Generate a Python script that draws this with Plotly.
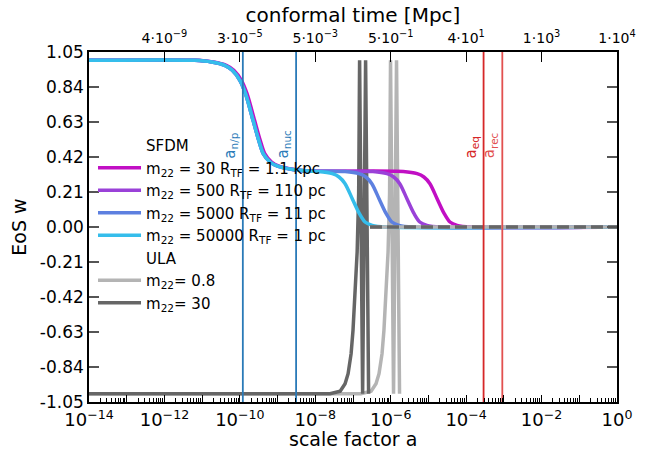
import numpy as np
import plotly.graph_objects as go

# ---------------- data ----------------
# SFDM equation of state w(a); positions given as log10(a)
SFDM_M30_LOGA = [-14.0, -11.16, -10.71, -10.36, -10.16, -9.96, -9.81, -9.61, -9.46, -9.34, -9.16, -8.96, -8.56, -8.16,
                 -5.67, -5.30, -5.12, -4.96, -4.77, -4.58, -4.43, -4.24, -3.87, 0.0]
SFDM_M500_LOGA = [-14.0, -11.2, -10.75, -10.4, -10.2, -10.0, -9.85, -9.65, -9.5, -9.38, -9.2, -9.0, -8.6, -8.2,
                  -6.47, -6.10, -5.92, -5.76, -5.57, -5.38, -5.23, -5.04, -4.67, 0.0]
SFDM_M5000_LOGA = [-14.0, -11.2, -10.75, -10.4, -10.2, -10.0, -9.85, -9.65, -9.5, -9.38, -9.2, -9.0, -8.6, -8.2,
                   -7.21, -6.84, -6.66, -6.50, -6.31, -6.12, -5.97, -5.78, -5.41, 0.0]
SFDM_M50000_LOGA = [-14.0, -11.2, -10.75, -10.4, -10.2, -10.0, -9.85, -9.65, -9.5, -9.38, -9.2, -9.0, -8.6, -8.2,
                    -7.92, -7.55, -7.37, -7.21, -7.02, -6.83, -6.68, -6.49, -6.12, 0.0]
SFDM_W = [1.0, 1.0, 0.99, 0.97, 0.94, 0.88, 0.80, 0.64, 0.52, 0.44, 0.39, 0.365, 0.345, 0.336,
          0.333, 0.32, 0.30, 0.26, 0.17, 0.08, 0.03, 0.01, 0.0, 0.0]

SFDM_NAMES = ["m<sub>22</sub> = 30 R<sub>TF</sub> = 1.1 kpc",
              "m<sub>22</sub> = 500 R<sub>TF</sub> = 110 pc",
              "m<sub>22</sub> = 5000 R<sub>TF</sub> = 11 pc",
              "m<sub>22</sub> = 50000 R<sub>TF</sub> = 1 pc"]
SFDM_COLORS = ["#c10fc4", "#9a41d8", "#5d80e0", "#35bdeb"]

# ULA equation of state (oscillating part)
ULA_M08_LOGA = [-14.0, -6.79, -6.52, -6.39, -6.31, -6.23, -6.18, -6.124, -6.07, -6.03, -6.005, -5.925, -5.846, -5.766]
ULA_M08_W = [-1.0, -1.0, -0.985, -0.94, -0.88, -0.76, -0.62, -0.42, -0.15, 0.2, 1.0, -1.0, 1.0, -1.0]
ULA_M30_LOGA = [-14.0, -7.61, -7.34, -7.21, -7.13, -7.05, -7.0, -6.944, -6.89, -6.85, -6.825, -6.745, -6.666, -6.586]
ULA_M30_W = [-1.0, -1.0, -0.985, -0.94, -0.88, -0.76, -0.62, -0.42, -0.15, 0.2, 1.0, -1.0, 1.0, -1.0]
ULA_TAIL_LOGA = [-6.55, 0.0]
ULA_TAIL_W = [0.0, 0.0]
ULA_NAMES = ["m<sub>22</sub>= 0.8", "m<sub>22</sub>= 30"]
ULA_COLORS = ["#b4b4b4", "#666666"]

# characteristic scale factors
VLINE_A = [1.2e-10, 3.1e-9, 2.9e-4, 9.1e-4]
VLINE_LABELS = ["a<sub>n/p</sub>", "a<sub>nuc</sub>", "a<sub>eq</sub>", "a<sub>rec</sub>"]
VLINE_COLORS = ["#2a7ab8", "#2a7ab8", "#d62728", "#e2504f"]

# axes ticks
Y_TICKS = [1.05, 0.84, 0.63, 0.42, 0.21, 0.0, -0.21, -0.42, -0.63, -0.84, -1.05]
Y_TICKTEXT = ["1.05", "0.84", "0.63", "0.42", "0.21", "0.00", "-0.21", "-0.42", "-0.63", "-0.84", "-1.05"]
X_DECADES = list(range(-14, 1))
MINOR_MANTISSAS = [2, 3, 4, 5, 6, 7, 8, 9]
TOP_TICK_A = [1e-12, 1e-10, 1e-8, 1e-6, 1e-4, 1e-2, 1e0]
TOP_TICKTEXT = ["4·10<sup>−9</sup>", "3·10<sup>−5</sup>", "5·10<sup>−3</sup>", "5·10<sup>−1</sup>",
                "4·10<sup>1</sup>", "1·10<sup>3</sup>", "1·10<sup>4</sup>"]

FONT = "DejaVu Sans"

def to_a(loga):
    return np.power(10.0, np.array(loga, dtype=float))

fig = go.Figure()

# dummy traces to activate the top axis and the minor-tick axis
fig.add_trace(go.Scatter(x=[1e-14, 1.0], y=[0, 0], xaxis="x2", mode="lines",
                         line=dict(color="rgba(0,0,0,0)"), showlegend=False, hoverinfo="skip"))
fig.add_trace(go.Scatter(x=[1e-14, 1.0], y=[0, 0], xaxis="x3", mode="lines",
                         line=dict(color="rgba(0,0,0,0)"), showlegend=False, hoverinfo="skip"))

# legend headers
fig.add_trace(go.Scatter(x=[1e-20], y=[5], mode="lines", line=dict(color="rgba(0,0,0,0)", width=3.5),
                         name="SFDM", legendrank=1))
fig.add_trace(go.Scatter(x=[1e-20], y=[5], mode="lines", line=dict(color="rgba(0,0,0,0)", width=3.5),
                         name="ULA", legendrank=6))

# ULA oscillating parts
fig.add_trace(go.Scatter(x=to_a(ULA_M08_LOGA), y=ULA_M08_W, mode="lines",
                         line=dict(color=ULA_COLORS[0], width=3.5), name=ULA_NAMES[0], legendrank=7))
fig.add_trace(go.Scatter(x=to_a(ULA_M30_LOGA), y=ULA_M30_W, mode="lines",
                         line=dict(color=ULA_COLORS[1], width=3.5), name=ULA_NAMES[1], legendrank=8))

# SFDM curves
sfdm_loga = [SFDM_M30_LOGA, SFDM_M500_LOGA, SFDM_M5000_LOGA, SFDM_M50000_LOGA]
for i in range(4):
    fig.add_trace(go.Scatter(x=to_a(sfdm_loga[i]), y=SFDM_W, mode="lines",
                             line=dict(color=SFDM_COLORS[i], width=3.5, shape="spline", smoothing=0.8),
                             name=SFDM_NAMES[i], legendrank=2 + i))

# ULA averaged tails
fig.add_trace(go.Scatter(x=to_a(ULA_TAIL_LOGA), y=ULA_TAIL_W, mode="lines",
                         line=dict(color=ULA_COLORS[0], width=3.5), showlegend=False, hoverinfo="skip"))
fig.add_trace(go.Scatter(x=to_a(ULA_TAIL_LOGA), y=ULA_TAIL_W, mode="lines",
                         line=dict(color=ULA_COLORS[1], width=3.5, dash="12px,5px"),
                         showlegend=False, hoverinfo="skip"))

# vertical lines
for a, c in zip(VLINE_A, VLINE_COLORS):
    fig.add_trace(go.Scatter(x=[a, a], y=[-1.05, 1.05], mode="lines", line=dict(color=c, width=1.8),
                             showlegend=False, hoverinfo="skip"))

annotations = []
for a, lab, c in zip(VLINE_A, VLINE_LABELS, VLINE_COLORS):
    annotations.append(dict(x=float(np.log10(a)), y=0.4, xref="x", yref="y", text=lab, textangle=-90,
                            showarrow=False, xanchor="right", yanchor="bottom", xshift=-1,
                            font=dict(family=FONT, size=15, color=c)))
# bottom axis title
annotations.append(dict(x=0.5, y=-(438.5 - 402) / 350.0, xref="paper", yref="paper", text="scale factor a",
                        showarrow=False, xanchor="center", yanchor="middle", font=dict(family=FONT, size=19)))

bottom_tickvals = [10.0 ** d for d in X_DECADES]
bottom_ticktext = [("10<sup>−%d</sup>" % (-d) if d < 0 else "10<sup>0</sup>") if d % 2 == 0 else ""
                   for d in X_DECADES]
minor_tickvals = [m * 10.0 ** d for d in X_DECADES[:-1] for m in MINOR_MANTISSAS]

fig.update_layout(
    width=647, height=450,
    margin=dict(l=89, r=30, t=52, b=48),
    paper_bgcolor="white", plot_bgcolor="white",
    font=dict(family=FONT, color="black"),
    showlegend=True,
    legend=dict(x=0.0076, y=0.78, xanchor="left", yanchor="top", bgcolor="rgba(0,0,0,0)",
                font=dict(family=FONT, size=15), traceorder="normal", tracegroupgap=0, itemwidth=43),
    xaxis=dict(type="log", range=[-14, 0], tickmode="array", tickvals=bottom_tickvals, ticktext=bottom_ticktext,
               ticks="inside", ticklen=7, tickwidth=1, tickcolor="black", ticklabelstandoff=1,
               showline=True, mirror=True, linecolor="black", linewidth=1.5,
               showgrid=False, zeroline=False, tickfont=dict(size=18), automargin=False),
    xaxis3=dict(type="log", range=[-14, 0], overlaying="x", side="bottom", tickmode="array",
                tickvals=minor_tickvals, ticks="inside", ticklen=4, tickwidth=1, tickcolor="black",
                showticklabels=False, showline=False, showgrid=False, zeroline=False, automargin=False),
    xaxis2=dict(type="log", range=[-14, 0], overlaying="x", side="top", tickmode="array",
                tickvals=TOP_TICK_A, ticktext=TOP_TICKTEXT, ticks="inside", ticklen=10, tickwidth=1,
                tickcolor="black", showline=False, showgrid=False, zeroline=False, ticklabelstandoff=5,
                tickfont=dict(size=14), title=dict(text="conformal time [Mpc]", font=dict(size=20), standoff=0),
                automargin=False),
    yaxis=dict(range=[-1.05, 1.05], tickmode="array", tickvals=Y_TICKS, ticktext=Y_TICKTEXT,
               ticks="inside", ticklen=10, tickwidth=1.5, tickcolor="#555555",
               showline=True, mirror="ticks", linecolor="black", linewidth=1.5,
               showgrid=False, zeroline=False, tickfont=dict(size=17),
               title=dict(text="EoS w", font=dict(size=19), standoff=8), automargin=False),
    annotations=annotations,
)

fig.write_html("out.html")
